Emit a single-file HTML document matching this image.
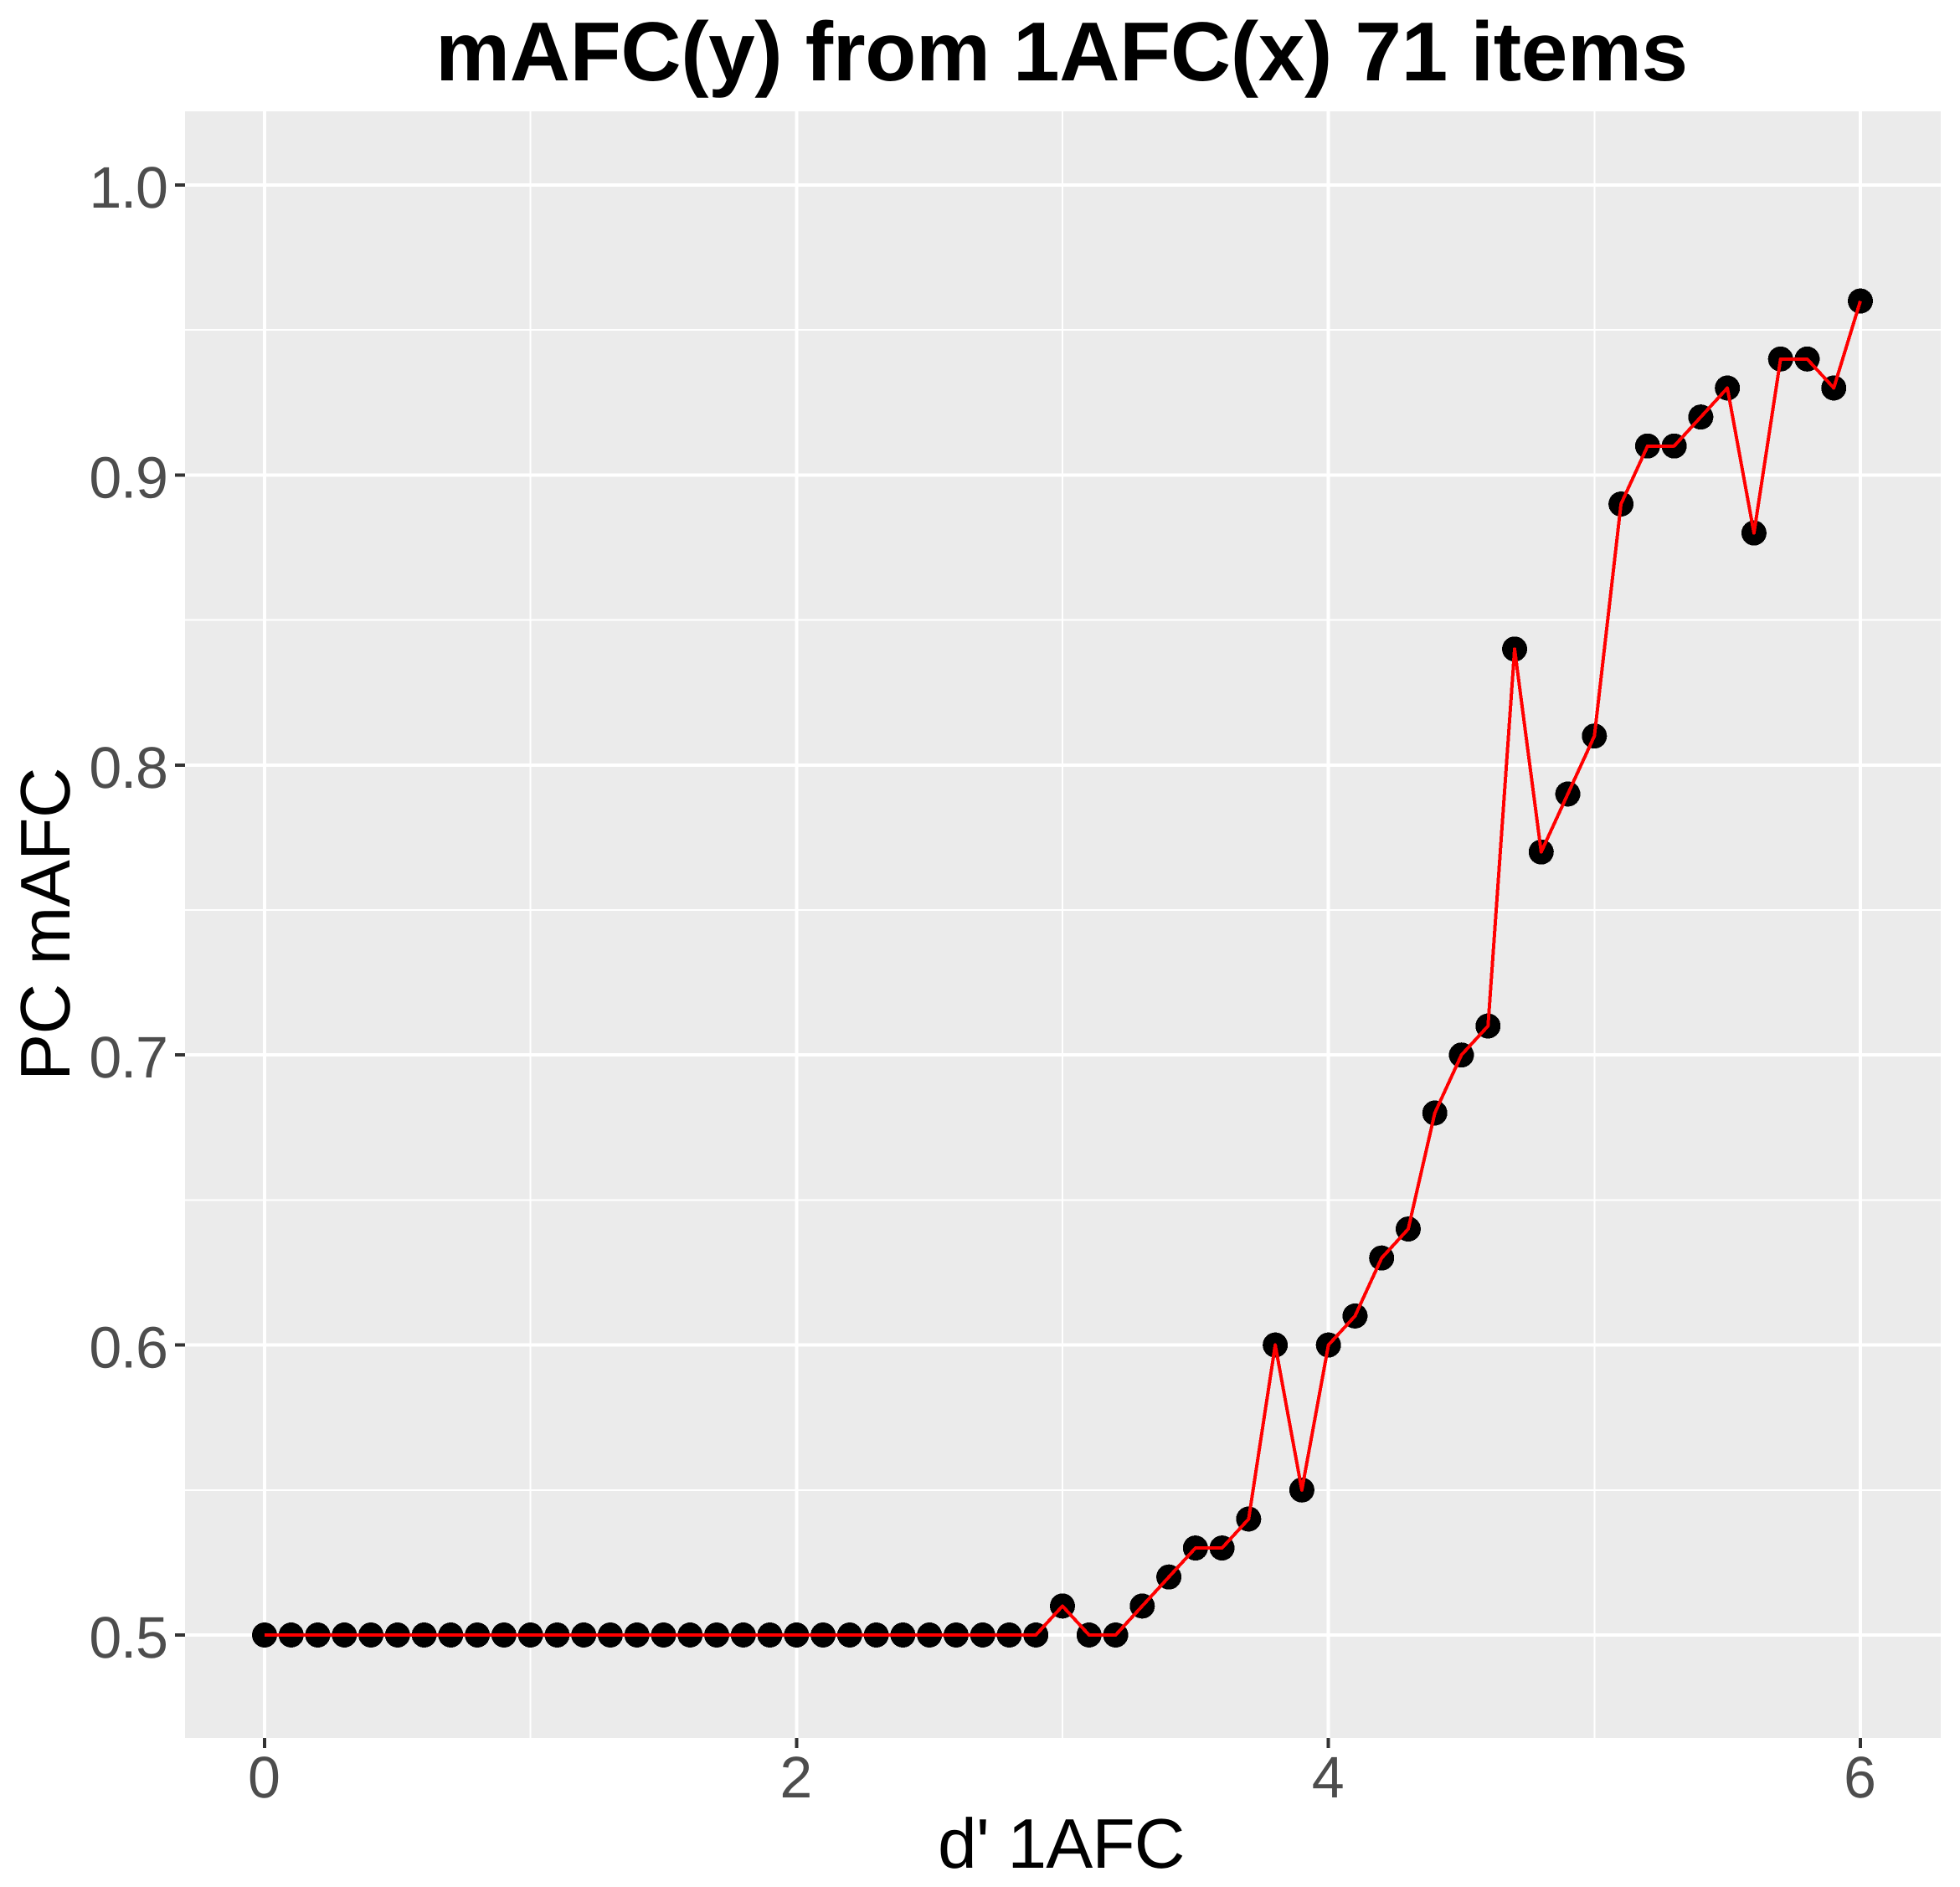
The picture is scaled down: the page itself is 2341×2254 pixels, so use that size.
<!DOCTYPE html>
<html lang="en">
<head>
<meta charset="utf-8">
<title>mAFC(y) from 1AFC(x) 71 items</title>
<style>
html,body{margin:0;padding:0;background:#fff;}
svg{display:block;font-family:"Liberation Sans",Arial,sans-serif;text-rendering:geometricPrecision;}
</style>
</head>
<body>
<svg id="chart" xmlns="http://www.w3.org/2000/svg" width="2341" height="2254" viewBox="0 0 2341 2254" shape-rendering="crispEdges">
  <rect x="0" y="0" width="2341" height="2254" fill="#ffffff"/>
  <rect x="221" y="133" width="2097" height="1943" fill="#ebebeb"/>
  <g id="grid"></g>
  <g id="points"></g>
  <path id="line" fill="none" stroke="#ff0000" stroke-width="4" stroke-linejoin="round" stroke-linecap="butt"/>
  <g id="ticks"></g>
  <text x="1268" y="96" text-anchor="middle" font-size="100" font-weight="700" letter-spacing="-0.35" fill="#000000">mAFC(y) from 1AFC(x) 71 items</text>
  <text x="1120" y="2231" text-anchor="start" font-size="84" letter-spacing="-0.9" fill="#000000">d' 1AFC</text>
  <text transform="translate(83,1104) rotate(-90)" text-anchor="middle" font-size="84" letter-spacing="-0.6" fill="#000000">PC mAFC</text>
</svg>
<script>
var dPrimeValues = [0,0.1,0.2,0.3,0.4,0.5,0.6,0.7,0.8,0.9,1,1.1,1.2,1.3,1.4,1.5,1.6,1.7,1.8,1.9,2,2.1,2.2,2.3,2.4,2.5,2.6,2.7,2.8,2.9,3,3.1,3.2,3.3,3.4,3.5,3.6,3.7,3.8,3.9,4,4.1,4.2,4.3,4.4,4.5,4.6,4.7,4.8,4.9,5,5.1,5.2,5.3,5.4,5.5,5.6,5.7,5.8,5.9,6];
var pcValues = [0.5,0.5,0.5,0.5,0.5,0.5,0.5,0.5,0.5,0.5,0.5,0.5,0.5,0.5,0.5,0.5,0.5,0.5,0.5,0.5,0.5,0.5,0.5,0.5,0.5,0.5,0.5,0.5,0.5,0.5,0.51,0.5,0.5,0.51,0.52,0.53,0.53,0.54,0.6,0.55,0.6,0.61,0.63,0.64,0.68,0.7,0.71,0.84,0.77,0.79,0.81,0.89,0.91,0.91,0.92,0.93,0.88,0.94,0.94,0.93,0.96];
var xTickValues = [0,2,4,6];
var xMinorValues = [1,3,5];
var yTickValues = [0.5,0.6,0.7,0.8,0.9,1.0];
var yMinorValues = [0.55,0.65,0.75,0.85,0.95];

var NS = 'http://www.w3.org/2000/svg';
var PANEL = {left:221, right:2318, top:133, bottom:2076};
function xScale(v){ return 316 + v * (2222 - 316) / 6; }
function yScale(v){ return 1953 - (v - 0.5) * (1953 - 221) / 0.5; }
function make(tag, attrs, parent){
  var el = document.createElementNS(NS, tag);
  for (var k in attrs) el.setAttribute(k, attrs[k]);
  parent.appendChild(el);
  return el;
}
var grid = document.getElementById('grid');
var ticks = document.getElementById('ticks');
var el;

yMinorValues.forEach(function(v){
  el = make('line', {x1:PANEL.left, x2:PANEL.right, y1:yScale(v), y2:yScale(v), stroke:'#ffffff', 'stroke-width':2}, grid);
  
  
});
xMinorValues.forEach(function(v){
  el = make('line', {x1:xScale(v), x2:xScale(v), y1:PANEL.top, y2:PANEL.bottom, stroke:'#ffffff', 'stroke-width':2}, grid);
  
  
});
yTickValues.forEach(function(v){
  el = make('line', {x1:PANEL.left, x2:PANEL.right, y1:yScale(v), y2:yScale(v), stroke:'#ffffff', 'stroke-width':4}, grid);
  
  
  el = make('line', {x1:PANEL.left - 12, x2:PANEL.left, y1:yScale(v), y2:yScale(v), stroke:'#333333', 'stroke-width':4}, ticks);
  
  
  el = make('text', {x:199.5, y:yScale(v) + 27, 'text-anchor':'end', 'font-size':70, 'letter-spacing':-1.4, fill:'#4d4d4d'}, ticks);
  
  
  el.textContent = v.toFixed(1);
});
xTickValues.forEach(function(v){
  el = make('line', {x1:xScale(v), x2:xScale(v), y1:PANEL.top, y2:PANEL.bottom, stroke:'#ffffff', 'stroke-width':4}, grid);
  
  
  el = make('line', {x1:xScale(v), x2:xScale(v), y1:PANEL.bottom, y2:PANEL.bottom + 12, stroke:'#333333', 'stroke-width':4}, ticks);
  
  
  el = make('text', {x:xScale(v) - 0.5, y:2147, 'text-anchor':'middle', 'font-size':70, fill:'#4d4d4d'}, ticks);
  
  
  el.textContent = String(v);
});

var pointsGroup = document.getElementById('points');
var d = '';
dPrimeValues.forEach(function(v, i){
  var px = xScale(v), py = yScale(pcValues[i]);
  d += (i ? 'L' : 'M') + px.toFixed(2) + ' ' + py.toFixed(2);
  el = make('circle', {cx:px, cy:py, r:15, fill:'#000000'}, pointsGroup);
  
  
});
document.getElementById('line').setAttribute('d', d);
</script>
</body>
</html>
